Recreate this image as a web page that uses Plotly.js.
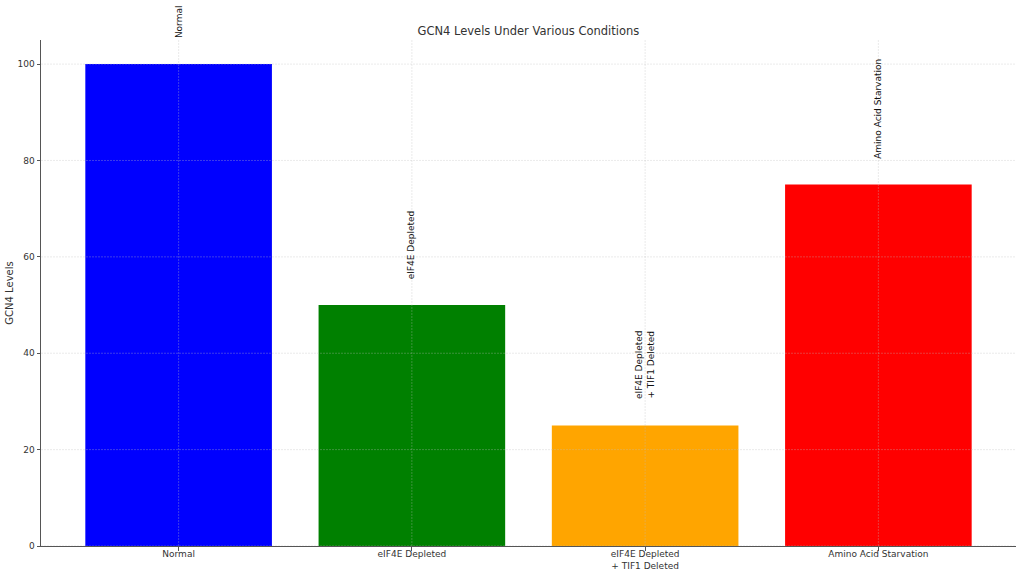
<!DOCTYPE html>
<html><head><meta charset="utf-8">
<script src="https://cdn.plot.ly/plotly-3.0.1.min.js"></script>
<style>html,body{margin:0;padding:0;background:#fff}#chart{width:1024px;height:576px}</style>
</head><body><div id="chart"></div>
<script>
const categories = ["Normal", "eIF4E Depleted", "eIF4E Depleted<br>+ TIF1 Deleted", "Amino Acid Starvation"];
const values = [100, 50, 25, 75];
const colors = ["blue", "green", "orange", "red"];
const yTicks = [0, 20, 40, 60, 80, 100];
const labelOffset = 5;

const idx = categories.map((_, i) => i);
const font = {family: "DejaVu Sans, sans-serif", color: "#333", size: 9};
const gridStyle = {color: "rgba(190,190,190,0.45)", width: 0.7, dash: "2px,1px"};

const shapes = [];
yTicks.forEach(v => shapes.push({type: "line", xref: "paper", yref: "y", x0: 0, x1: 1, y0: v, y1: v, layer: "above", line: gridStyle}));
idx.forEach(i => shapes.push({type: "line", xref: "x", yref: "paper", x0: i, x1: i, y0: 0, y1: 1, layer: "above", line: gridStyle}));

const annotations = idx.map(i => ({
  x: i, y: values[i] + labelOffset, xref: "x", yref: "y",
  text: categories[i], showarrow: false, textangle: -90,
  xanchor: "center", yanchor: "bottom", align: "center",
  font: {family: "DejaVu Sans, sans-serif", size: 9, color: "#111"}
}));

Plotly.newPlot("chart", [{
  type: "bar", x: idx, y: values, width: 0.8,
  marker: {color: colors, line: {width: 0}},
  hoverinfo: "none"
}], {
  width: 1024, height: 576,
  margin: {l: 41, r: 8, t: 40, b: 30},
  paper_bgcolor: "#fff", plot_bgcolor: "#fff",
  font: font,
  showlegend: false,
  title: {text: "GCN4 Levels Under Various Conditions", x: 0.516, xanchor: "center", y: 0.946, yanchor: "middle", font: {family: "DejaVu Sans, sans-serif", size: 11.5, color: "#333"}},
  xaxis: {
    range: [-0.59, 3.59], tickmode: "array", tickvals: idx, ticktext: categories,
    showgrid: false, zeroline: false, showline: true, linecolor: "#555", linewidth: 1,
    ticks: "outside", ticklen: 3.5, tickcolor: "#555", tickfont: font, ticklabelstandoff: -4
  },
  yaxis: {
    range: [0, 105], tickmode: "array", tickvals: yTicks,
    showgrid: false, zeroline: false, showline: true, linecolor: "#555", linewidth: 1,
    ticks: "outside", ticklen: 3.5, tickcolor: "#555", tickfont: font,
    title: {text: "GCN4 Levels", font: {family: "DejaVu Sans, sans-serif", size: 10, color: "#333"}, standoff: 2}
  },
  shapes: shapes,
  annotations: annotations
}, {staticPlot: true});
</script>
</body></html>
